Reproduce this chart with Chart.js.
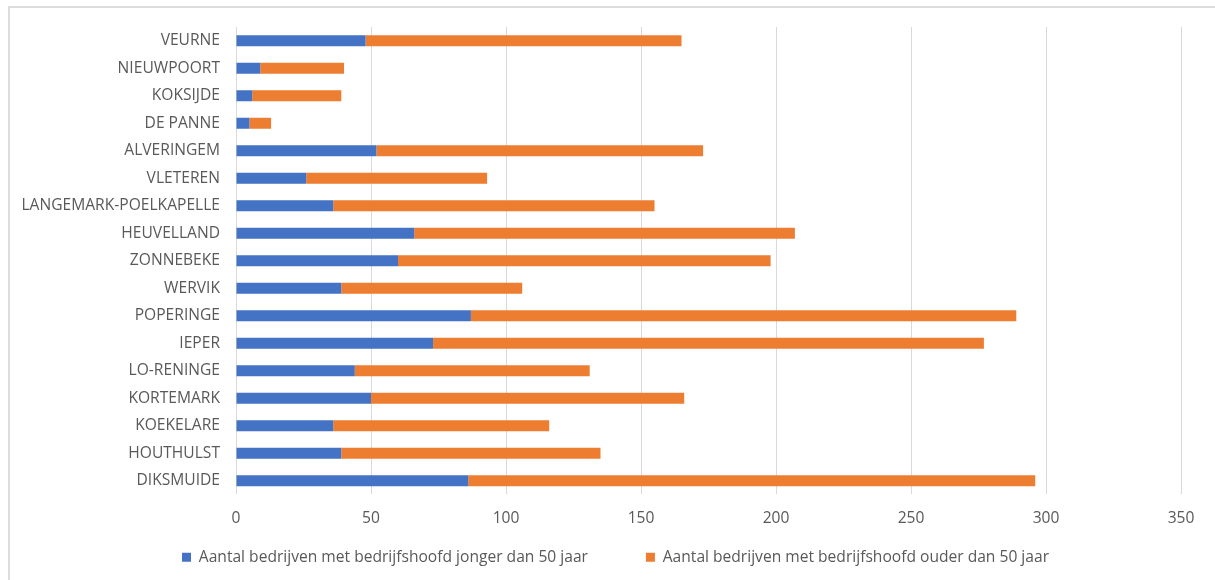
<!DOCTYPE html>
<html>
<head>
    <title>Bedrijven per gemeente</title>
    <script src="https://cdn.jsdelivr.net/npm/chart.js"></script>
    <style>
        html, body {
            margin: 0;
            padding: 0;
            background: #fff;
            overflow: hidden;
        }
        .wrap {
            position: relative;
            width: 1215px;
            height: 580px;
        }
        .frame {
            position: absolute;
            left: 8px;
            top: 6px;
            width: 1400px;
            height: 800px;
            border-top: 2px solid #dcdcdc;
            border-left: 2px solid #dcdcdc;
        }
        canvas {
            position: absolute;
            left: 0;
            top: 0;
        }
    </style>
</head>
<body>
    <div class="wrap">
        <div class="frame"></div>
        <canvas id="barChart" width="1215" height="580"></canvas>
    </div>

    <script>
        // gemeenten, van boven naar onder
        const gemeenten = ['VEURNE', 'NIEUWPOORT', 'KOKSIJDE', 'DE PANNE', 'ALVERINGEM', 'VLETEREN',
                           'LANGEMARK-POELKAPELLE', 'HEUVELLAND', 'ZONNEBEKE', 'WERVIK', 'POPERINGE',
                           'IEPER', 'LO-RENINGE', 'KORTEMARK', 'KOEKELARE', 'HOUTHULST', 'DIKSMUIDE'];

        const jongerDan50 = [48, 9, 6, 5, 52, 26, 36, 66, 60, 39, 87, 73, 44, 50, 36, 39, 86];
        const ouderDan50  = [117, 31, 33, 8, 121, 67, 119, 141, 138, 67, 202, 204, 87, 116, 80, 96, 210];

        const reeksNamen = ['Aantal bedrijven met bedrijfshoofd jonger dan 50 jaar',
                            'Aantal bedrijven met bedrijfshoofd ouder dan 50 jaar'];

        const asMax = 350;
        const asStap = 50;

        const tekstKleur = '#595959';
        const lettertype = { family: "'Open Sans', sans-serif", size: 15.6 };

        // x-as krijgt hoogte 0 in de layout, zodat de legenda (met brede tussenruimte)
        // direct onder het plotvlak past; daarna de as weer hoog genoeg voor zijn labels
        const legendaSchuif = {
            id: 'legendaSchuif',
            afterLayout(chart) {
                const x = chart.scales.x;
                x.height = 40;
                x.bottom = x.top + 40;
                const lg = chart.legend;
                lg.top -= 3;
                lg.bottom -= 3;
                lg.left += 25;
                lg.right += 25;
            }
        };

        const ctx = document.getElementById('barChart').getContext('2d');
        const barChart = new Chart(ctx, {
            type: 'bar',
            data: {
                labels: gemeenten,
                datasets: [
                    {
                        label: reeksNamen[0],
                        data: jongerDan50,
                        backgroundColor: '#4472C4',
                        borderWidth: 0,
                        categoryPercentage: 0.8,
                        barPercentage: 0.5
                    },
                    {
                        label: reeksNamen[1],
                        data: ouderDan50,
                        backgroundColor: '#ED7D31',
                        borderWidth: 0,
                        categoryPercentage: 0.8,
                        barPercentage: 0.5
                    }
                ]
            },
            plugins: [legendaSchuif],
            options: {
                indexAxis: 'y',
                responsive: false,
                animation: false,
                layout: {
                    padding: { top: 27, right: 34, bottom: 2, left: 0 }
                },
                plugins: {
                    tooltip: { enabled: false },
                    legend: {
                        position: 'bottom',
                        labels: {
                            boxWidth: 9,
                            boxHeight: 9,
                            padding: 58,
                            color: tekstKleur,
                            font: lettertype
                        }
                    }
                },
                scales: {
                    x: {
                        stacked: true,
                        min: 0,
                        max: asMax,
                        ticks: {
                            stepSize: asStap,
                            padding: 15,
                            color: tekstKleur,
                            font: lettertype
                        },
                        grid: {
                            color: '#d9d9d9',
                            drawTicks: false
                        },
                        border: { display: false },
                        afterFit: function (scale) {
                            scale.height = 0;
                        }
                    },
                    y: {
                        stacked: true,
                        ticks: {
                            padding: 16,
                            color: tekstKleur,
                            font: lettertype
                        },
                        grid: { display: false, drawTicks: false },
                        border: { display: false },
                        afterFit: function (scale) {
                            scale.width = 236;
                            scale.paddingTop = 0;
                            scale.paddingBottom = 0;
                        }
                    }
                }
            }
        });
    </script>
</body>
</html>
